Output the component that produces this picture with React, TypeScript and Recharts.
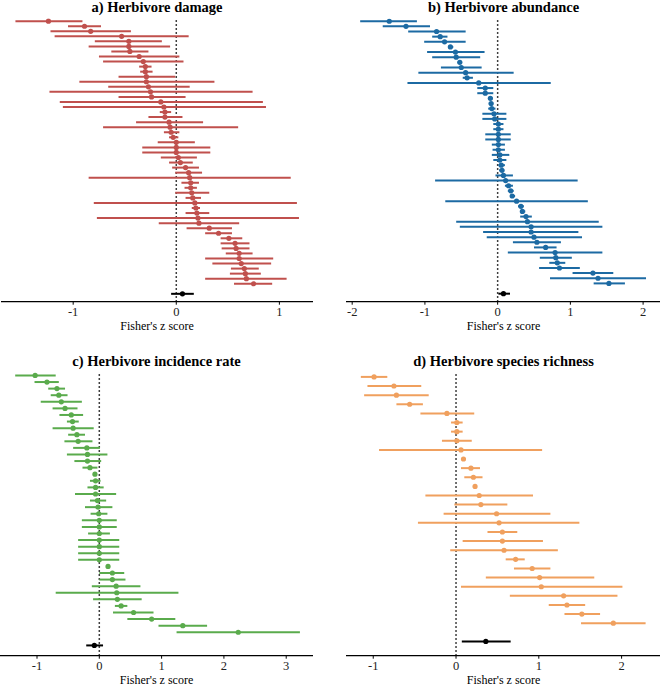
import React from "react";
import {
  ScatterChart,
  Scatter,
  XAxis,
  YAxis,
  ErrorBar,
  ReferenceLine,
} from "recharts";

// Panel a) Herbivore damage: effect, lower CI, upper CI (top to bottom)
const damageZ = [-1.24, -0.89, -0.83, -0.53, -0.46, -0.46, -0.45, -0.36, -0.32, -0.3, -0.3, -0.29, -0.29, -0.27, -0.25, -0.24, -0.15, -0.12, -0.11, -0.11, -0.07, -0.06, -0.05, -0.03, 0.0, 0.0, 0.0, 0.02, 0.04, 0.09, 0.12, 0.13, 0.14, 0.14, 0.15, 0.16, 0.18, 0.19, 0.2, 0.21, 0.22, 0.32, 0.41, 0.51, 0.57, 0.58, 0.61, 0.61, 0.63, 0.66, 0.67, 0.68, 0.75];
const damageLo = [-1.56, -1.05, -1.22, -1.18, -0.79, -0.85, -0.63, -0.75, -0.71, -0.36, -0.35, -0.56, -0.94, -0.66, -1.23, -0.56, -1.13, -1.1, -0.16, -0.27, -0.39, -0.71, -0.12, -0.07, -0.18, -0.33, -0.33, -0.15, -0.07, -0.04, -0.01, -0.85, 0.05, 0.08, -0.01, 0.09, -0.8, 0.15, 0.09, -0.77, -0.17, 0.1, 0.28, 0.43, 0.43, 0.44, 0.48, 0.28, 0.35, 0.53, 0.52, 0.28, 0.56];
const damageHi = [-0.91, -0.73, -0.44, 0.12, -0.14, -0.06, -0.27, 0.03, 0.07, -0.24, -0.23, -0.01, 0.37, 0.13, 0.74, 0.09, 0.84, 0.87, -0.05, 0.06, 0.26, 0.6, 0.03, 0.02, 0.18, 0.33, 0.33, 0.2, 0.16, 0.22, 0.25, 1.11, 0.22, 0.2, 0.32, 0.24, 1.17, 0.23, 0.32, 1.19, 0.61, 0.54, 0.54, 0.64, 0.71, 0.71, 0.74, 0.94, 0.92, 0.8, 0.82, 1.07, 0.93];
const damageMean = [0.06, -0.05, 0.17];

// Panel b) Herbivore abundance
const abundZ = [-1.49, -1.26, -0.84, -0.79, -0.73, -0.65, -0.58, -0.57, -0.52, -0.5, -0.44, -0.42, -0.26, -0.17, -0.17, -0.1, -0.09, -0.08, -0.05, -0.04, 0.01, 0.01, 0.01, 0.01, 0.01, 0.01, 0.03, 0.03, 0.05, 0.06, 0.08, 0.11, 0.15, 0.18, 0.2, 0.26, 0.32, 0.34, 0.39, 0.41, 0.46, 0.46, 0.5, 0.54, 0.66, 0.79, 0.8, 0.82, 0.85, 1.31, 1.38, 1.53];
const abundLo = [-1.89, -1.58, -1.23, -0.9, -1.01, -0.68, -0.97, -0.9, -0.55, -0.78, -1.09, -0.48, -1.24, -0.28, -0.28, -0.12, -0.12, -0.13, -0.21, -0.21, -0.06, -0.06, -0.17, -0.17, -0.08, -0.07, -0.08, -0.06, 0.01, 0.02, -0.03, -0.86, 0.1, 0.14, 0.17, -0.72, 0.28, 0.31, 0.31, -0.57, -0.52, -0.2, -0.15, 0.21, 0.5, 0.14, 0.58, 0.71, 0.57, 1.03, 0.72, 1.32];
const abundHi = [-1.11, -0.93, -0.44, -0.69, -0.44, -0.61, -0.18, -0.24, -0.49, -0.22, 0.22, -0.34, 0.73, -0.06, -0.06, -0.07, -0.06, -0.03, 0.12, 0.12, 0.08, 0.08, 0.18, 0.18, 0.1, 0.1, 0.16, 0.12, 0.1, 0.09, 0.21, 1.1, 0.21, 0.22, 0.24, 1.24, 0.36, 0.38, 0.47, 1.39, 1.44, 1.11, 1.16, 0.87, 0.81, 1.44, 1.02, 0.93, 1.13, 1.59, 2.04, 1.75];
const abundMean = [0.08, 0.01, 0.17];

// Panel c) Herbivore incidence rate
const incidZ = [-1.03, -0.84, -0.68, -0.65, -0.61, -0.55, -0.45, -0.43, -0.42, -0.36, -0.34, -0.2, -0.19, -0.19, -0.15, -0.07, -0.06, -0.06, -0.06, -0.03, -0.02, -0.01, 0.0, 0.0, 0.0, 0.0, 0.0, 0.0, 0.0, 0.14, 0.21, 0.21, 0.27, 0.28, 0.29, 0.35, 0.55, 0.84, 1.34, 2.23];
const incidLo = [-1.35, -1.04, -0.82, -0.78, -0.94, -0.75, -0.64, -0.52, -0.75, -0.5, -0.56, -0.42, -0.52, -0.4, -0.27, -0.09, -0.15, -0.19, -0.39, -0.15, -0.23, -0.14, -0.28, -0.28, -0.18, -0.34, -0.34, -0.34, -0.34, 0.12, 0.0, 0.0, -0.12, -0.7, -0.1, 0.25, 0.22, 0.45, 0.95, 1.24];
const incidHi = [-0.7, -0.65, -0.55, -0.51, -0.28, -0.35, -0.26, -0.33, -0.09, -0.23, -0.11, 0.01, 0.13, 0.03, -0.03, -0.05, 0.02, 0.07, 0.27, 0.11, 0.21, 0.13, 0.28, 0.28, 0.17, 0.32, 0.32, 0.32, 0.32, 0.16, 0.4, 0.42, 0.66, 1.27, 0.68, 0.45, 0.87, 1.22, 1.73, 3.22];
const incidMean = [-0.08, -0.21, 0.06];

// Panel d) Herbivore species richness
const richZ = [-0.99, -0.75, -0.72, -0.56, -0.11, 0.01, 0.01, 0.01, 0.06, 0.09, 0.18, 0.21, 0.23, 0.28, 0.3, 0.49, 0.52, 0.56, 0.56, 0.58, 0.72, 0.92, 1.01, 1.03, 1.3, 1.34, 1.52, 1.9];
const richLo = [-1.15, -1.07, -1.11, -0.72, -0.43, -0.06, -0.06, -0.17, -0.93, 0.07, 0.06, 0.1, 0.21, -0.37, -0.02, -0.15, -0.46, 0.38, 0.08, -0.07, 0.6, 0.7, 0.36, 0.06, 0.65, 1.12, 1.31, 1.51];
const richHi = [-0.83, -0.42, -0.33, -0.4, 0.22, 0.08, 0.08, 0.19, 1.04, 0.11, 0.29, 0.32, 0.25, 0.93, 0.62, 1.14, 1.49, 0.74, 1.05, 1.23, 0.83, 1.14, 1.67, 2.01, 1.95, 1.56, 1.74, 2.29];
const richMean = [0.36, 0.07, 0.66];

const FONT = "'Liberation Serif', 'DejaVu Serif', serif";

type PanelProps = {
  title: string;
  color: string;
  z: number[];
  lo: number[];
  hi: number[];
  mean: number[];
  xDomain: [number, number];
  ticks: number[];
  left: number;
  top: number;
  width: number;
  height: number;
  plotLeft: number;
  plotRight: number;
  plotTop: number;
  plotBottom: number;
};

function ForestPanel(p: PanelProps) {
  const n = p.z.length;
  const rows = p.z.map((v, i) => ({ x: v, y: i + 1, err: [v - p.lo[i], p.hi[i] - v] }));
  const summary = [{ x: p.mean[0], y: n + 2, err: [p.mean[0] - p.mean[1], p.mean[2] - p.mean[0]] }];
  const axisH = 28.5;

  return (
    <div style={{ position: "absolute", left: p.left, top: p.top, width: p.width, height: p.height }}>
      <div
        style={{
          position: "absolute",
          left: p.plotLeft,
          width: p.width - p.plotLeft - p.plotRight,
          top: p.plotTop - 18,
          textAlign: "center",
          fontFamily: FONT,
          fontWeight: "bold",
          fontSize: 14.5,
          lineHeight: "14px",
          color: "#000",
        }}
      >
        {p.title}
      </div>
      <ScatterChart
        width={p.width}
        height={p.height}
        margin={{ left: p.plotLeft, right: p.plotRight, top: p.plotTop, bottom: p.plotBottom - axisH }}
      >
        <XAxis
          type="number"
          dataKey="x"
          domain={p.xDomain}
          allowDataOverflow
          ticks={p.ticks}
          interval={0}
          height={axisH}
          axisLine={{ stroke: "#000", strokeWidth: 1.2 }}
          tickLine={{ stroke: "#000" }}
          tickSize={3}
          tickMargin={2}
          tick={{ fill: "#222", fontSize: 12.5, fontFamily: FONT }}
          label={{ value: "Fisher's z score", position: "insideBottom", offset: 0, fill: "#000", fontSize: 12, fontFamily: FONT }}
        />
        <YAxis
          type="number"
          dataKey="y"
          reversed
          domain={[0.43, n + 3.56]}
          allowDataOverflow
          width={0}
          tick={false}
          tickLine={false}
          axisLine={{ stroke: "#000", strokeWidth: 1.2 }}
        />
        <ReferenceLine x={0} stroke="#000" strokeWidth={1.5} strokeDasharray="1.5 2.5" />
        <Scatter data={rows} fill={p.color} isAnimationActive={false} shape={(s: any) => <circle cx={s.cx} cy={s.cy} r={2.6} fill={p.color} />}>
          <ErrorBar dataKey="err" direction="x" width={0} stroke={p.color} strokeWidth={2} />
        </Scatter>
        <Scatter data={summary} fill="#000" isAnimationActive={false} shape={(s: any) => <circle cx={s.cx} cy={s.cy} r={2.6} fill="#000" />}>
          <ErrorBar dataKey="err" direction="x" width={0} stroke="#000" strokeWidth={2} />
        </Scatter>
      </ScatterChart>
    </div>
  );
}

export default function App() {
  return (
    <div style={{ position: "absolute", left: 0, top: 0, width: 660, height: 687, background: "#fff", overflow: "hidden" }}>
      <ForestPanel
        title="a) Herbivore damage"
        color="#c0504d"
        z={damageZ}
        lo={damageLo}
        hi={damageHi}
        mean={damageMean}
        xDomain={[-1.7, 1.326]}
        ticks={[-1, 0, 1]}
        left={0}
        top={0}
        width={330}
        height={340}
        plotLeft={1}
        plotRight={17}
        plotTop={18.3}
        plotBottom={38.3}
      />
      <ForestPanel
        title="b) Herbivore abundance"
        color="#1c6aa3"
        z={abundZ}
        lo={abundLo}
        hi={abundHi}
        mean={abundMean}
        xDomain={[-2.085, 2.246]}
        ticks={[-2, -1, 0, 1, 2]}
        left={330}
        top={0}
        width={331}
        height={340}
        plotLeft={16}
        plotRight={0}
        plotTop={18.3}
        plotBottom={38.3}
      />
      <ForestPanel
        title="c) Herbivore incidence rate"
        color="#5aab4c"
        z={incidZ}
        lo={incidLo}
        hi={incidHi}
        mean={incidMean}
        xDomain={[-1.594, 3.43]}
        ticks={[-1, 0, 1, 2, 3]}
        left={0}
        top={340}
        width={330}
        height={347}
        plotLeft={0}
        plotRight={17}
        plotTop={31.7}
        plotBottom={31.3}
      />
      <ForestPanel
        title="d) Herbivore species richness"
        color="#f0a05e"
        z={richZ}
        lo={richLo}
        hi={richHi}
        mean={richMean}
        xDomain={[-1.329, 2.476]}
        ticks={[-1, 0, 1, 2]}
        left={330}
        top={340}
        width={331}
        height={347}
        plotLeft={16}
        plotRight={0}
        plotTop={31.7}
        plotBottom={31.3}
      />
    </div>
  );
}
